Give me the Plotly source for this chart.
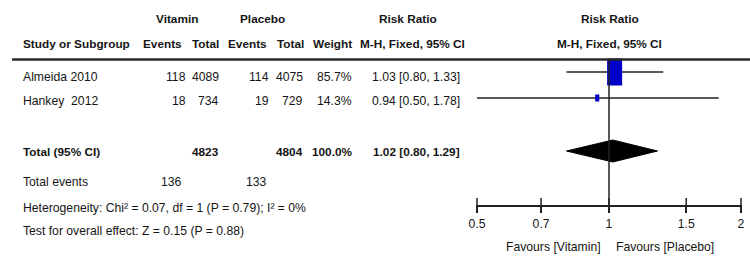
import math
import plotly.graph_objects as go

# ---------------- data ----------------
studies = ["Almeida 2010", "Hankey  2012"]
vit_events = [118, 18]
vit_total = [4089, 734]
pla_events = [114, 19]
pla_total = [4075, 729]
weights = [85.7, 14.3]
rr = [1.03, 0.94]
rr_lo = [0.80, 0.50]
rr_hi = [1.33, 1.78]

total_label = "Total (95% CI)"
total_vit = 4823
total_pla = 4804
total_weight = 100.0
total_rr = 1.02
total_lo = 0.80
total_hi = 1.29
total_events_vit = 136
total_events_pla = 133
het_text = "Heterogeneity: Chi\u00b2 = 0.07, df = 1 (P = 0.79); I\u00b2 = 0%"
overall_text = "Test for overall effect: Z = 0.15 (P = 0.88)"

tick_vals = [0.5, 0.7, 1, 1.5, 2]
tick_labels = ["0.5", "0.7", "1", "1.5", "2"]
favours_left = "Favours [Vitamin]"
favours_right = "Favours [Placebo]"

# ---------------- style / layout ----------------
W, H = 750, 277
FONT = "Liberation Sans, Arial, sans-serif"
FS = 12.2
FSB = 11.8
TXT = "#151515"
BLUE = "#0000C8"

row_text_y = [77, 101]
row_line_y = [72, 98]
total_text_y = 152
total_diamond_y = 151
events_y = 182
het_y = 208
overall_y = 231
head1_y = 19
head2_y = 44
rule_y = 59.5
axis_y = 206
fav_y = 247
PX_PER_DEC = 264 / (2 * math.log10(2))

fig = go.Figure()

def ann(text, x, y, anchor="left", bold=False):
    size = FSB if bold else FS
    if bold:
        text = "<b>" + text + "</b>"
    fig.add_annotation(text=text, x=x / W, xref="paper", y=y, yref="y",
                       xanchor=anchor, yanchor="middle", showarrow=False,
                       borderpad=0,
                       font=dict(family=FONT, size=size, color=TXT))

# headers
ann("Vitamin", 177, head1_y, "center", True)
ann("Placebo", 262, head1_y, "center", True)
ann("Risk Ratio", 408, head1_y, "center", True)
ann("Risk Ratio", 610, head1_y, "center", True)
ann("Study or Subgroup", 22, head2_y, "left", True)
ann("Events", 183, head2_y, "right", True)
ann("Total", 220, head2_y, "right", True)
ann("Events", 268, head2_y, "right", True)
ann("Total", 305, head2_y, "right", True)
ann("Weight", 353, head2_y, "right", True)
ann("M-H, Fixed, 95% CI", 412, head2_y, "center", True)
ann("M-H, Fixed, 95% CI", 609, head2_y, "center", True)

fig.add_shape(type="line", xref="paper", yref="y", x0=12 / W, x1=1,
              y0=rule_y, y1=rule_y, line=dict(color="#2a2a2a", width=2.5))

# study rows
for i, s in enumerate(studies):
    y = row_text_y[i]
    ann(s, 22, y)
    ann(str(vit_events[i]), 187, y, "right")
    ann(str(vit_total[i]), 220, y, "right")
    ann(str(pla_events[i]), 270, y, "right")
    ann(str(pla_total[i]), 304, y, "right")
    ann(f"{weights[i]:.1f}%", 353, y, "right")
    ann(f"{rr[i]:.2f} [{rr_lo[i]:.2f}, {rr_hi[i]:.2f}]", 461, y, "right")

# total rows
ann(total_label, 22, total_text_y, "left", True)
ann(str(total_vit), 220, total_text_y, "right", True)
ann(str(total_pla), 304, total_text_y, "right", True)
ann(f"{total_weight:.1f}%", 354, total_text_y, "right", True)
ann(f"{total_rr:.2f} [{total_lo:.2f}, {total_hi:.2f}]", 461, total_text_y, "right", True)
ann("Total events", 22, events_y)
ann(str(total_events_vit), 183, events_y, "right")
ann(str(total_events_pla), 268, events_y, "right")
ann(het_text, 22, het_y)
ann(overall_text, 22, overall_y)

# CI lines
cx, cy = [], []
for i in range(len(studies)):
    cx += [rr_lo[i], rr_hi[i], None]
    cy += [row_line_y[i], row_line_y[i], None]
fig.add_trace(go.Scatter(x=cx, y=cy, mode="lines",
                         line=dict(color="#222222", width=1.5),
                         hoverinfo="skip", cliponaxis=False))

# weight boxes (size in pixels grows with the study weight)
for i in range(len(studies)):
    bw = 2 + 0.152 * weights[i]
    bh = 3 + 0.28 * weights[i]
    f = 10 ** (bw / 2 / PX_PER_DEC)
    x0, x1 = rr[i] / f, rr[i] * f
    y0, y1 = row_line_y[i] - bh / 2, row_line_y[i] + bh / 2
    fig.add_trace(go.Scatter(x=[x0, x1, x1, x0, x0], y=[y0, y0, y1, y1, y0],
                             mode="lines", fill="toself", fillcolor=BLUE,
                             line=dict(width=0, color=BLUE), hoverinfo="skip"))

# line of no effect
fig.add_shape(type="line", xref="x", yref="y", x0=1, x1=1,
              y0=rule_y, y1=axis_y, line=dict(color="#222222", width=1.5))

# diamond
fig.add_trace(go.Scatter(
    x=[total_lo, total_rr, total_hi, total_rr, total_lo],
    y=[total_diamond_y, total_diamond_y - 11, total_diamond_y,
       total_diamond_y + 11, total_diamond_y],
    mode="lines", fill="toself", fillcolor="black",
    line=dict(color="black", width=1), hoverinfo="skip"))

# upper halves of the axis ticks
fig.add_trace(go.Scatter(x=tick_vals, y=[axis_y - 3] * len(tick_vals),
                         mode="markers", cliponaxis=False,
                         marker=dict(symbol="line-ns", size=7,
                                     line=dict(color="#222222", width=1.5)),
                         hoverinfo="skip"))

ann(favours_left, 602, fav_y, "right")
ann(favours_right, 615, fav_y, "left")

pad = 1 / PX_PER_DEC
fig.update_layout(
    width=W, height=H, margin=dict(l=0, r=0, t=0, b=0, pad=0),
    paper_bgcolor="white", plot_bgcolor="white", showlegend=False,
    hovermode=False,
    xaxis=dict(type="log",
               range=[math.log10(0.5) - pad, math.log10(2) + pad],
               domain=[476 / W, 742 / W], anchor="free",
               position=1 - axis_y / H, automargin=False,
               showline=True, linecolor="#222222", linewidth=2,
               tickvals=tick_vals, ticktext=tick_labels,
               ticks="outside", ticklen=6, tickwidth=1.5, tickcolor="#222222",
               ticklabeloverflow="allow",
               showgrid=False, zeroline=False,
               tickfont=dict(family=FONT, size=FS, color=TXT)),
    yaxis=dict(range=[H, 0], domain=[0, 1], visible=False, showgrid=False,
               zeroline=False, automargin=False),
)

fig.write_html("out.html",
               config={"displayModeBar": False, "staticPlot": True},
               post_script="document.body.style.margin='0';"
                           "document.body.style.overflow='hidden';")
